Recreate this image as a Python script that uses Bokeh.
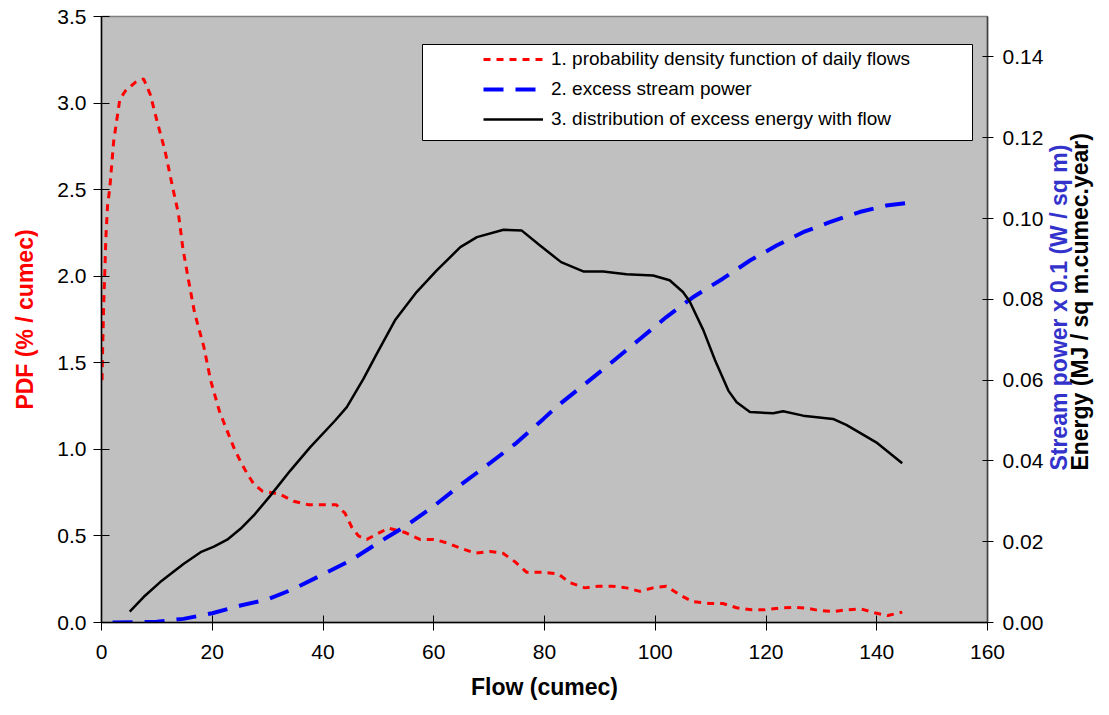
import math
from bokeh.plotting import figure
from bokeh.models import (Range1d, LinearAxis, FixedTicker, NumeralTickFormatter,
                          Legend, LegendItem, BoxAnnotation)
from bokeh.embed import file_html
from bokeh.resources import INLINE

# ---- data ----
pdf_flow = [0.1, 0.2, 0.4, 0.6, 0.8, 1.1, 1.5, 2.2, 3.3, 4.3, 6.1, 7.6, 8.8, 10.0,
            11.5, 12.8, 13.9, 14.7, 15.7, 16.8, 18.5, 19.7, 21.3, 22.4, 23.9, 25.1,
            26.3, 27.5, 29.0, 32.3, 34.7, 37.4, 40.1, 42.4, 44.0, 45.2, 46.4, 47.9,
            49.7, 51.8, 54.8, 57.5, 60.0, 62.4, 64.8, 67.5, 70.2, 72.5, 74.7, 76.8,
            79.8, 82.5, 84.6, 87.3, 89.7, 92.1, 94.8, 97.2, 99.6, 102.0, 104.4,
            106.8, 109.8, 112.2, 114.7, 117.4, 119.8, 122.3, 125.1, 127.3, 129.6,
            132.3, 134.4, 137.1, 139.6, 142.0, 144.6]
pdf_values = [1.40, 1.57, 1.84, 2.03, 2.23, 2.41, 2.51, 2.78, 3.02, 3.07, 3.12, 3.14,
              3.05, 2.90, 2.72, 2.52, 2.36, 2.16, 1.98, 1.79, 1.59, 1.40, 1.22, 1.13,
              1.01, 0.93, 0.86, 0.80, 0.76, 0.74, 0.70, 0.68, 0.68, 0.68, 0.63, 0.55,
              0.50, 0.48, 0.51, 0.545, 0.52, 0.48, 0.48, 0.46, 0.43, 0.40, 0.41, 0.40,
              0.35, 0.29, 0.29, 0.28, 0.23, 0.20, 0.21, 0.21, 0.20, 0.18, 0.20, 0.21,
              0.16, 0.12, 0.11, 0.11, 0.085, 0.073, 0.073, 0.083, 0.088, 0.083, 0.069,
              0.064, 0.073, 0.079, 0.056, 0.040, 0.060]

power_flow = [2.0, 10.0, 14.8, 20.0, 25.1, 29.9, 34.7, 40.1, 44.9, 49.7, 51.8, 55.1,
              59.9, 64.8, 69.6, 74.7, 79.8, 82.8, 87.0, 91.8, 96.9, 102.0, 106.8,
              112.2, 117.1, 121.9, 126.7, 131.5, 136.9, 141.7, 145.3]
power_values = [0.0, 0.0002, 0.0009, 0.0023, 0.0042, 0.0057, 0.0083, 0.0120, 0.0153,
                0.0195, 0.0213, 0.0240, 0.0287, 0.0340, 0.0389, 0.0442, 0.0504, 0.0541,
                0.0587, 0.0640, 0.0698, 0.0756, 0.0805, 0.0851, 0.0896, 0.0933, 0.0966,
                0.0991, 0.1016, 0.1032, 0.1038]

energy_flow = [5.1, 7.6, 10.6, 14.8, 17.9, 20.3, 22.7, 25.1, 27.5, 30.5, 34.1, 37.7,
               42.2, 44.3, 47.3, 49.7, 53.0, 56.9, 60.5, 64.8, 67.8, 72.6, 75.9, 79.2,
               83.0, 87.0, 90.6, 94.8, 99.6, 102.6, 105.0, 106.2, 108.7, 110.8, 113.2,
               114.7, 117.1, 121.3, 123.1, 126.7, 132.1, 134.5, 136.9, 139.9, 144.6]
energy_values = [0.0027, 0.0063, 0.0100, 0.0145, 0.0174, 0.0188, 0.0205, 0.0232, 0.0265,
                 0.0314, 0.0376, 0.0434, 0.0500, 0.0533, 0.0603, 0.0665, 0.0748, 0.0818,
                 0.0871, 0.0929, 0.0954, 0.0972, 0.0970, 0.0933, 0.0892, 0.0869, 0.0869,
                 0.0862, 0.0859, 0.0847, 0.0818, 0.0795, 0.0723, 0.0649, 0.0574, 0.0545,
                 0.0521, 0.0518, 0.0523, 0.0512, 0.0504, 0.0489, 0.0470, 0.0446, 0.0394]

x_ticks = [0, 20, 40, 60, 80, 100, 120, 140, 160]
left_ticks = [0.0, 0.5, 1.0, 1.5, 2.0, 2.5, 3.0, 3.5]
right_ticks = [0.0, 0.02, 0.04, 0.06, 0.08, 0.10, 0.12, 0.14]

legend_labels = ["1. probability density function of daily flows",
                 "2. excess stream power",
                 "3. distribution of excess energy with flow"]
right_titles = ["Stream power x 0.1 (W / sq m)", "Energy (MJ / sq m.cumec.year)"]
right_title_colors = ["#3333CC", "black"]
right_title_anchors = [0.0376, 0.0376]   # right-axis value where each title starts

FONT = "Liberation Sans"

p = figure(width=1109, height=715, output_backend="svg", toolbar_location=None,
           x_range=Range1d(0, 160), y_range=Range1d(0, 3.5),
           min_border_left=101, min_border_right=121, min_border_top=16,
           min_border_bottom=93)
p.extra_y_ranges = {"right": Range1d(0, 0.15)}

p.background_fill_color = "#C0C0C0"
p.border_fill_color = "white"
p.outline_line_color = "#808080"
p.outline_line_width = 1.5
p.xgrid.visible = False
p.ygrid.visible = False

r_pdf = p.line(pdf_flow, pdf_values, line_color="#FF0000", line_width=3,
               line_dash="7 6")
r_pow = p.line(power_flow, power_values, line_color="#0000FF", line_width=4,
               line_dash="20 12", y_range_name="right")
r_en = p.line(energy_flow, energy_values, line_color="black", line_width=2.5,
              y_range_name="right")

# x axis
xa = p.xaxis[0]
xa.ticker = FixedTicker(ticks=x_ticks)
xa.axis_label = "Flow (cumec)"
xa.axis_label_text_font = FONT
xa.axis_label_text_font_size = "23px"
xa.axis_label_text_font_style = "bold"
xa.axis_label_text_color = "black"
xa.axis_label_standoff = 12
xa.major_label_text_font = FONT
xa.major_label_text_font_size = "21px"
xa.major_label_text_color = "black"
xa.major_label_standoff = 14
xa.major_tick_out = 8
xa.major_tick_in = 7
xa.minor_tick_out = 0
xa.minor_tick_in = 0
xa.axis_line_color = "black"
xa.axis_line_width = 1.5
xa.major_tick_line_color = "black"

# left axis
ya = p.yaxis[0]
ya.ticker = FixedTicker(ticks=left_ticks)
ya.formatter = NumeralTickFormatter(format="0.0")
ya.axis_label = "PDF (% / cumec)"
ya.axis_label_text_font = FONT
ya.axis_label_text_font_size = "23px"
ya.axis_label_text_font_style = "bold"
ya.axis_label_text_color = "#FF0000"
ya.axis_label_standoff = 16
ya.major_label_text_font = FONT
ya.major_label_text_font_size = "21px"
ya.major_label_text_color = "black"
ya.major_label_standoff = 7
ya.major_tick_out = 8
ya.major_tick_in = 8
ya.minor_tick_out = 0
ya.minor_tick_in = 0
ya.axis_line_color = "black"
ya.axis_line_width = 1.5

# right axis
ra = LinearAxis(y_range_name="right", ticker=FixedTicker(ticks=right_ticks),
                formatter=NumeralTickFormatter(format="0.00"))
ra.major_label_text_font = FONT
ra.major_label_text_font_size = "21px"
ra.major_label_text_color = "black"
ra.major_label_standoff = 9
ra.major_tick_out = 6
ra.major_tick_in = 5
ra.minor_tick_out = 0
ra.minor_tick_in = 0
ra.axis_line_color = "#404040"
ra.axis_line_width = 1.5
p.add_layout(ra, "right")

# right titles: two label-only axes, text reading upwards
for text, color, anchor, standoff in zip(right_titles, right_title_colors,
                                         right_title_anchors, [13, -8]):
    ax = LinearAxis(y_range_name="right", ticker=FixedTicker(ticks=[anchor]),
                    major_label_overrides={anchor: text},
                    major_label_orientation=math.pi / 2)
    ax.major_label_text_font = FONT
    ax.major_label_text_font_size = "23px"
    ax.major_label_text_font_style = "bold"
    ax.major_label_text_color = color
    ax.major_label_standoff = standoff
    ax.major_tick_out = 0
    ax.major_tick_in = 0
    ax.minor_tick_out = 0
    ax.minor_tick_in = 0
    ax.axis_line_alpha = 0
    p.add_layout(ax, "right")

# legend frame
p.add_layout(BoxAnnotation(left=321, right=871, bottom=482, top=578,
                           left_units="screen", right_units="screen",
                           bottom_units="screen", top_units="screen",
                           fill_color="white", fill_alpha=1.0,
                           line_color="black", line_width=1, line_alpha=1.0))

legend = Legend(items=[LegendItem(label=legend_labels[0], renderers=[r_pdf]),
                       LegendItem(label=legend_labels[1], renderers=[r_pow]),
                       LegendItem(label=legend_labels[2], renderers=[r_en])],
                location=(377, 487), border_line_alpha=0, background_fill_alpha=0,
                label_text_font=FONT, label_text_font_size="19px",
                label_text_color="black",
                glyph_width=60, glyph_height=20, label_height=20, spacing=8,
                padding=5, margin=0, label_standoff=8)
p.add_layout(legend, "center")

open("out.html", "w").write(file_html(p, INLINE))
